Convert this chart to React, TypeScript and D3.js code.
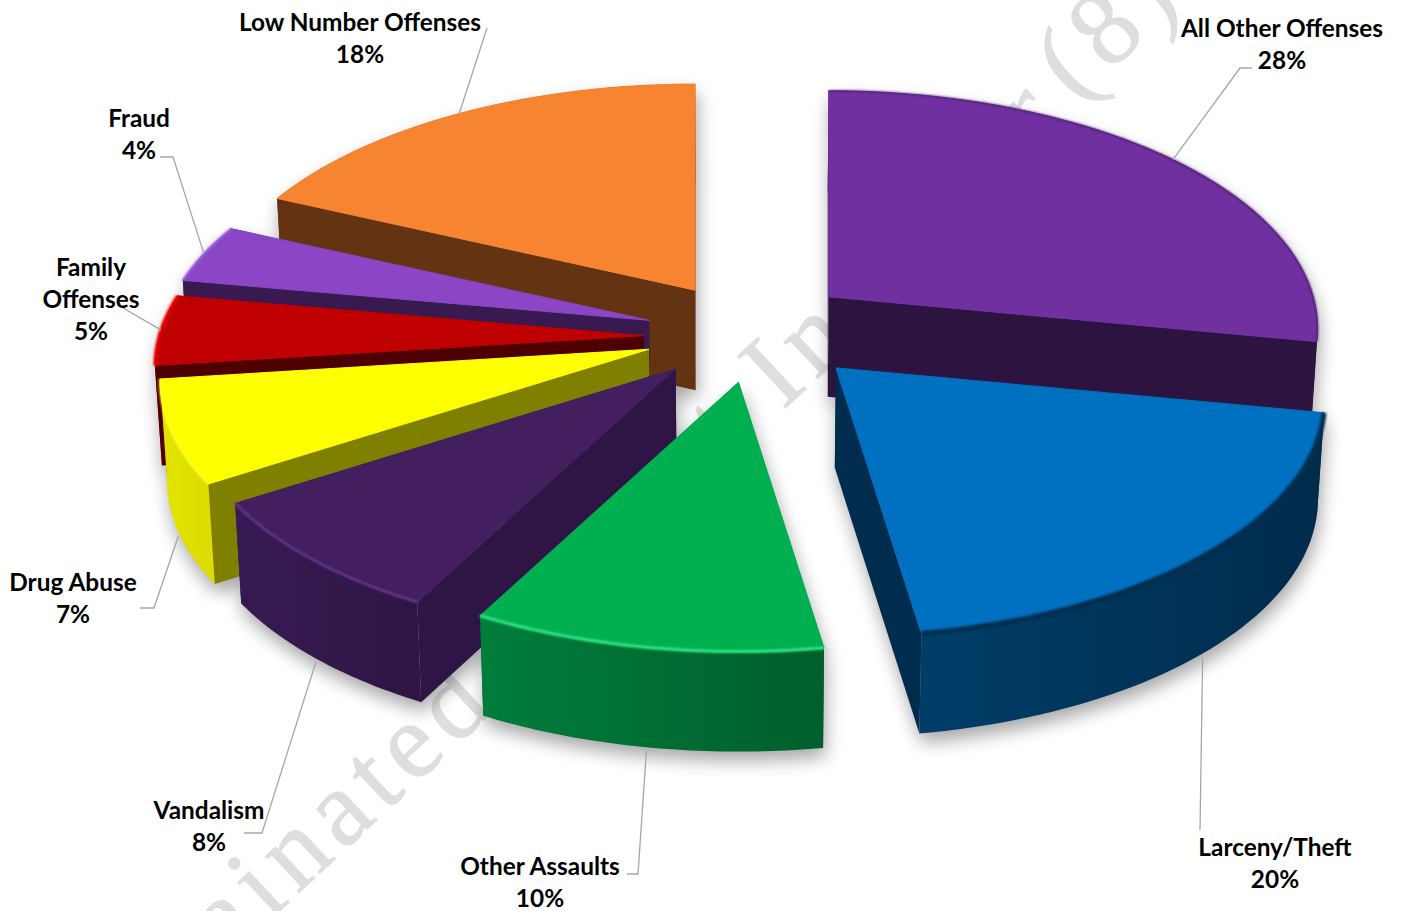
import React from "react";
import * as d3 from "d3";

const categories = ["All Other Offenses", "Larceny/Theft", "Other Assaults", "Vandalism", "Drug Abuse", "Family Offenses", "Fraud", "Low Number Offenses"];
const shares = [28, 19.55, 10.25, 8.2, 7, 4.8, 4, 18.2];

const topColors = ["#7030A0", "#0070C0", "#00B050", "#431F60", "#FFFF00", "#C00000", "#8B46C5", "#F68430"];
const wallColors = ["#2D1340", "#002D4E", "#00632F", "#2F1545", "#808000", "#4E0000", "#381A50", "#633312"];
const rimFrom = ["#2D1340", "#003E69", "#007D3B", "#371A53", "#E4E400", "#E00000", "#4A2070", "#7A4016"];
const rimTo = ["#2D1340", "#002B4B", "#005F2C", "#2F1545", "#DCDC00", "#A00000", "#381A50", "#633312"];
const bevelColors = ["#3D1A5C", "#002D4E", "#30E884", "#6B3A90", "#FFFF30", "#F00000", "#A868E8", "#F68430"];
const bevelWidths = [1.2, 5, 3, 2.2, 2, 3, 2, 0];

const labelLines = [
  ["All Other Offenses"], ["Larceny/Theft"], ["Other Assaults"], ["Vandalism"],
  ["Drug Abuse"], ["Family", "Offenses"], ["Fraud"], ["Low Number Offenses"],
];
const labelCentres: [number, number][] = [[1282, 37], [1275, 856], [540, 875], [209, 819], [73, 591], [91, 276], [139, 127], [360, 31]];
const leaderElbows: [number, number][][] = [
  [[1252, 68], [1240, 68]], [[1200, 830]], [[627, 874], [638, 874]], [[244, 833], [262, 833]],
  [[140, 608], [154, 608]], [[123, 308]], [[160, 157], [173, 157]], [[487, 28]],
];
// per-slice placement corrections for the perspective model
const sliceNudges: [number, number][] = [[-3, 0], [-2, 0], [3, -3], [0, 0], [-2, 4], [-6, 10], [-9, 8], [-9, 2]];

const WIDTH = 1402, HEIGHT = 911;
const CX = 756, CY = 327, RX = 484.6, RY = 233.5, PERSP = 0.133, EXPLODE = 0.22, THICK = 100, LINE = 32;

const sx = d3.scaleLinear().domain([-1, 1]).range([-RX, RX]);
const sy = d3.scaleLinear().domain([-1, 1]).range([RY, -RY]);
const persp = (a: number) => 1 / (1 + PERSP * Math.cos(a));
type P = [number, number];
const dir = (a: number, r = 1): P => [sx(r * Math.sin(a)) * persp(a), sy(r * Math.cos(a)) * persp(a)];
const drop = (p: P): P => [745 + (p[0] - 745) * 0.988, p[1] + THICK];
const line = d3.line<P>();

const arcs = d3.pie<number>().sort(null).startAngle(0).endAngle(2 * Math.PI)(shares);
const slices = arcs.map((arc, i) => {
  const mid = (arc.startAngle + arc.endAngle) / 2;
  const [ex, ey] = dir(mid, EXPLODE);
  const apex: P = [CX + ex + sliceNudges[i][0], CY + ey + sliceNudges[i][1]];
  const rimAt = (a: number): P => { const d = dir(a); return [apex[0] + d[0], apex[1] + d[1]]; };
  const n = 48;
  const rim = d3.range(n + 1).map((k) => rimAt(arc.startAngle + ((arc.endAngle - arc.startAngle) * k) / n));
  const first = rim[0], last = rim[n], m = rimAt(mid);
  const facing = (p: P) => {
    const dx = p[0] - apex[0];
    if (Math.abs(dx) < 1e-6) return false;
    return m[1] < apex[1] + ((p[1] - apex[1]) * (m[0] - apex[0])) / dx;
  };
  const quad = (p: P) => line([apex, p, drop(p), drop(apex)]) + "Z";
  const walls = [first, last];
  const front = Math.cos(mid) < -0.3;
  const low = drop(m);
  return {
    i, mid, apex, rim,
    anchor: (front ? [low[0], low[1] + 4] : m) as P,
    top: line([apex, ...rim]) + "Z",
    rimWall: line([...rim, ...rim.map(drop).reverse()]) + "Z",
    hiddenWalls: walls.filter((p) => !facing(p)).map(quad),
    shownWalls: walls.filter(facing).map(quad),
    arcLine: line(rim) as string,
    xs: d3.extent(rim, (p) => p[0]) as [number, number],
  };
});
const painted = [...slices].sort((a, b) => Math.cos(b.mid) - Math.cos(a.mid));
const FONT = "Lato, 'Open Sans', sans-serif";

export default function App() {
  return (
    <svg width={WIDTH} height={HEIGHT} viewBox={`0 0 ${WIDTH} ${HEIGHT}`} style={{ position: "absolute", left: 0, top: 0, background: "#fff" }}>
      <defs>
        <filter id="shadow" filterUnits="userSpaceOnUse" x="0" y="0" width={WIDTH} height={HEIGHT}>
          <feGaussianBlur stdDeviation="9" />
        </filter>
        <filter id="soft" filterUnits="userSpaceOnUse" x="0" y="0" width={WIDTH} height={HEIGHT}>
          <feGaussianBlur stdDeviation="1.1" />
        </filter>
        {slices.map((s) => (
          <linearGradient key={s.i} id={`rim${s.i}`} gradientUnits="userSpaceOnUse" x1={s.xs[0]} x2={s.xs[1]} y1="0" y2="0">
            <stop offset="0" stopColor={rimFrom[s.i]} />
            <stop offset="1" stopColor={rimTo[s.i]} />
          </linearGradient>
        ))}
      </defs>

      <g fontFamily="'Liberation Serif', serif" fontSize="108" letterSpacing="9" fill="#DEDEDE" stroke="#DEDEDE" strokeWidth="1">
        <text transform="translate(227,960) rotate(-43)">ainated</text>
        <text transform="translate(728,462) rotate(-43)">t In</text>
        <text transform="translate(1035,150) rotate(-43)">r</text>
        <text transform="translate(1076,103) rotate(-43)">(8)</text>
      </g>

      <g filter="url(#shadow)" opacity="0.35" transform="translate(2,9)">
        {slices.map((s) => (
          <g key={s.i} fill="#000">
            {[...s.hiddenWalls, ...s.shownWalls].map((d, k) => <path key={k} d={d} />)}
            <path d={s.rimWall} /><path d={s.top} />
          </g>
        ))}
      </g>

      {painted.map((s) => (
        <g key={s.i}>
          {s.hiddenWalls.map((d, k) => <path key={k} d={d} fill={wallColors[s.i]} />)}
          <path d={s.rimWall} fill={`url(#rim${s.i})`} />
          {s.shownWalls.map((d, k) => <path key={k} d={d} fill={wallColors[s.i]} />)}
          <path d={s.top} fill={topColors[s.i]} stroke={topColors[s.i]} strokeWidth="1" strokeLinejoin="round" />
          {bevelWidths[s.i] > 0 && (
            <path d={s.arcLine} fill="none" stroke={bevelColors[s.i]} strokeWidth={bevelWidths[s.i]} filter="url(#soft)" />
          )}
        </g>
      ))}

      <g fill="none" stroke="#A6A6A6" strokeWidth="1.3">
        {slices.map((s) => (
          <path key={s.i} d={line([...leaderElbows[s.i], s.anchor]) as string} />
        ))}
      </g>

      <g fontFamily={FONT} fontWeight="700" fontSize="24.4" fill="#000" textAnchor="middle">
        {slices.map((s) => {
          const [x, y] = labelCentres[s.i];
          const lines = [...labelLines[s.i], `${Math.round(shares[s.i])}%`];
          return (
            <text key={s.i} x={x} y={y} aria-label={categories[s.i]}>
              {lines.map((t, k) => (
                <tspan key={k} x={x} dy={k ? LINE : 0}>{t}</tspan>
              ))}
            </text>
          );
        })}
      </g>
    </svg>
  );
}
